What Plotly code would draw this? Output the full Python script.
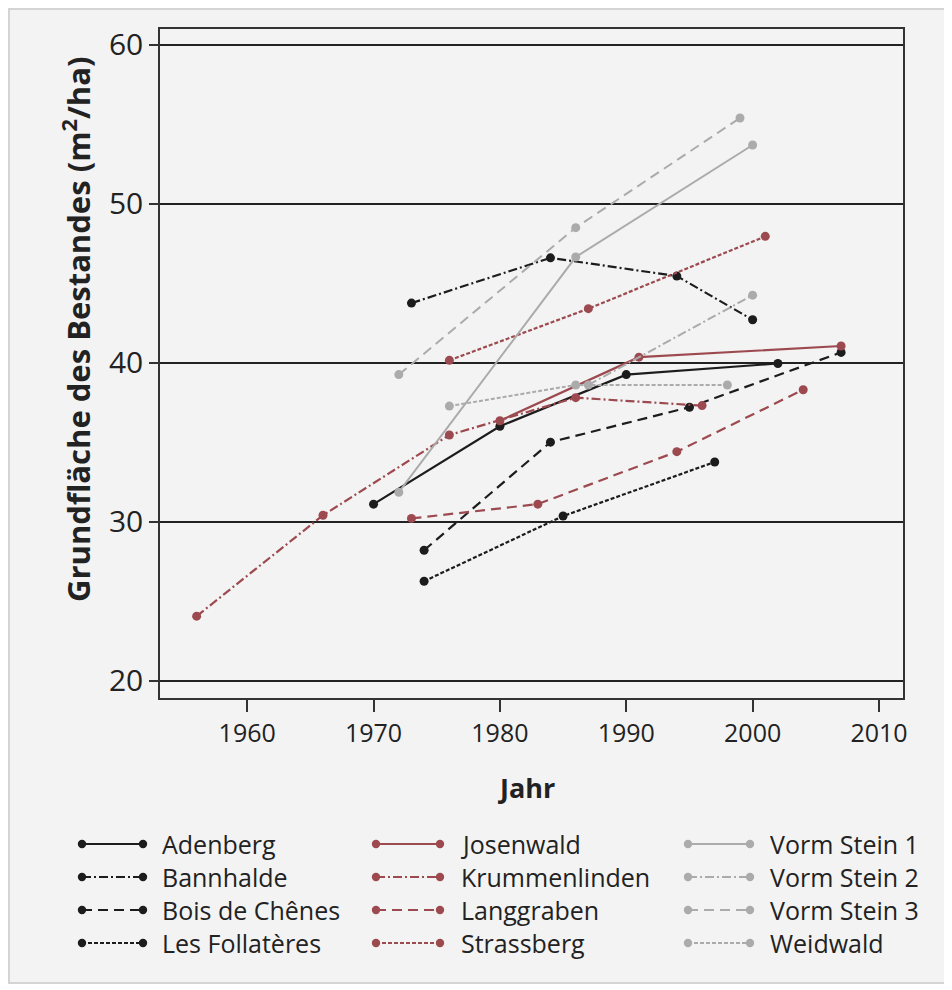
import plotly.graph_objects as go

# ---------------- data ----------------
names = ["Adenberg", "Bannhalde", "Bois de Chênes", "Les Follatères",
         "Josenwald", "Krummenlinden", "Langgraben", "Strassberg",
         "Vorm Stein 1", "Vorm Stein 2", "Vorm Stein 3", "Weidwald"]

adenberg_x = [1970, 1980, 1990, 2002]
adenberg_y = [31.1, 36.0, 39.25, 39.95]
bannhalde_x = [1973, 1984, 1994, 2000]
bannhalde_y = [43.75, 46.6, 45.45, 42.7]
bois_x = [1974, 1984, 1995, 2007]
bois_y = [28.2, 35.0, 37.2, 40.65]
follateres_x = [1974, 1985, 1997]
follateres_y = [26.25, 30.35, 33.75]
josenwald_x = [1980, 1991, 2007]
josenwald_y = [36.35, 40.35, 41.05]
krummen_x = [1956, 1966, 1976, 1986, 1996]
krummen_y = [24.05, 30.4, 35.45, 37.8, 37.3]
langgraben_x = [1973, 1983, 1994, 2004]
langgraben_y = [30.2, 31.1, 34.4, 38.3]
strassberg_x = [1976, 1987, 2001]
strassberg_y = [40.15, 43.4, 47.95]
vs1_x = [1972, 1986, 2000]
vs1_y = [31.85, 46.65, 53.7]
vs2_x = [1987, 2000]
vs2_y = [38.6, 44.25]
vs3_x = [1972, 1986, 1999]
vs3_y = [39.25, 48.5, 55.4]
weidwald_x = [1976, 1986, 1998]
weidwald_y = [37.27, 38.6, 38.6]

xs = [adenberg_x, bannhalde_x, bois_x, follateres_x, josenwald_x, krummen_x,
      langgraben_x, strassberg_x, vs1_x, vs2_x, vs3_x, weidwald_x]
ys = [adenberg_y, bannhalde_y, bois_y, follateres_y, josenwald_y, krummen_y,
      langgraben_y, strassberg_y, vs1_y, vs2_y, vs3_y, weidwald_y]

x_ticks = [1960, 1970, 1980, 1990, 2000, 2010]
y_ticks = [20, 30, 40, 50, 60]

# ---------------- styles ----------------
BLACK = "#1c1c1c"
RED = "#9c4a4f"
GRAY = "#ababab"
colors = [BLACK] * 4 + [RED] * 4 + [GRAY] * 4
DASHES = ["solid", "9px,3px,2px,3px", "10px,6px", "4px,2px"]
dashes = DASHES * 3
widths = [2.2] * 8 + [2.0] * 4

FONT = "Open Sans"
TXT = "#222222"

fig = go.Figure()
for n, x, y, c, d, w in zip(names, xs, ys, colors, dashes, widths):
    fig.add_trace(go.Scatter(
        x=x, y=y, name=n, mode="lines+markers",
        line=dict(color=c, dash=d, width=w),
        marker=dict(color=c, size=9),
        showlegend=False,
    ))

# ---------------- layout geometry (page pixels; page body has 8px margin) ----------------
OFF = 8
W, H = 952 - OFF, 990 - OFF
L, R, T, B = 160 - OFF, 49, 29 - OFF, 292
PW, PH = W - L - R, H - T - B


def px(xp):
    return (xp - OFF - L) / PW


def py(yp):
    return 1 - (yp - OFF - T) / PH


shapes = []
annotations = []

# figure panel background with light border
shapes.append(dict(type="rect", xref="paper", yref="paper", layer="below",
                   x0=px(9), x1=px(945), y0=py(983), y1=py(9),
                   fillcolor="#f3f3f3", line=dict(color="#d4d4d4", width=2)))

# manual legend in three columns
col_x = [(82, 143, 160), (376, 440, 459), (688, 750, 768)]
row_y = [844, 877, 910, 943]
for i, (n, c, d) in enumerate(zip(names, colors, dashes)):
    col, row = divmod(i, 4)
    x0, x1, xt = col_x[col]
    yy = row_y[row]
    shapes.append(dict(type="line", xref="paper", yref="paper",
                       x0=px(x0), x1=px(x1), y0=py(yy), y1=py(yy),
                       line=dict(color=c, dash=d, width=2.2)))
    for xc in (x0, x1):
        r = 4.2
        shapes.append(dict(type="circle", xref="paper", yref="paper",
                           x0=px(xc - r), x1=px(xc + r), y0=py(yy + r), y1=py(yy - r),
                           fillcolor=c, line=dict(color=c, width=0)))
    annotations.append(dict(xref="paper", yref="paper", x=px(xt), y=py(yy),
                            text=n, showarrow=False, xanchor="left", yanchor="middle",
                            font=dict(family=FONT, size=25, color=TXT)))

# axis titles
annotations.append(dict(xref="paper", yref="paper", x=px(526), y=py(787),
                        text="<b>Jahr</b>", showarrow=False,
                        xanchor="center", yanchor="middle",
                        font=dict(family=FONT, size=27, color=TXT)))
annotations.append(dict(xref="paper", yref="paper", x=px(76), y=py(330),
                        text="<b>Grundfläche des Bestandes (m<sup>2</sup>/ha)</b>",
                        showarrow=False, textangle=-90,
                        xanchor="center", yanchor="middle",
                        font=dict(family=FONT, size=31, color=TXT)))

fig.update_layout(
    width=W, height=H,
    margin=dict(l=L, r=R, t=T, b=B),
    paper_bgcolor="white",
    plot_bgcolor="rgba(0,0,0,0)",
    shapes=shapes,
    annotations=annotations,
    showlegend=False,
    font=dict(family=FONT, color=TXT),
)
fig.update_xaxes(
    range=[1953.1, 2011.9], tickvals=x_ticks, ticks="outside", ticklen=12,
    tickwidth=1.5, tickcolor="#333333", showgrid=False, zeroline=False,
    showline=True, linecolor="#333333", linewidth=1.5, mirror=True,
    tickfont=dict(family=FONT, size=25, color=TXT),
)
fig.update_yaxes(
    range=[18.9, 61.0], tickvals=y_ticks, ticks="outside", ticklen=9,
    tickwidth=1.5, tickcolor="#333333", showgrid=True, gridcolor="#222222",
    gridwidth=1.5, zeroline=False,
    showline=True, linecolor="#333333", linewidth=1.5, mirror=True,
    tickfont=dict(family=FONT, size=30, color=TXT),
)

fig.write_html("out.html")
